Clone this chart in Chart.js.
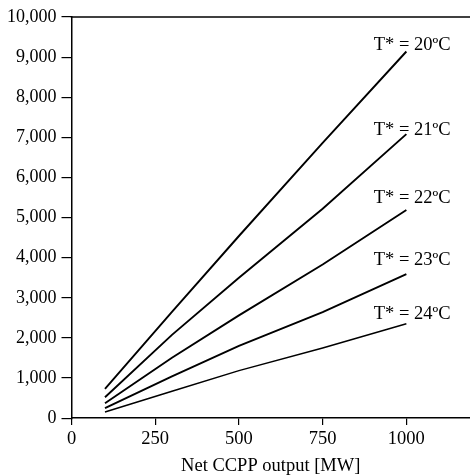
<!DOCTYPE html>
<html>
<head>
<meta charset="utf-8">
<script src="https://cdn.jsdelivr.net/npm/chart.js@4"></script>
<style>
  html, body { margin: 0; padding: 0; background: #fff; overflow: hidden; }
  #wrap { width: 470px; height: 476px; }
</style>
</head>
<body>
<div id="wrap"><canvas id="c" width="470" height="476"></canvas></div>
<script>
const xValues = [100, 300, 500, 750, 1000];
const t20 = [730, 2650, 4540, 6860, 9140];
const t21 = [520, 2075, 3500, 5220, 7080];
const t22 = [370, 1505, 2560, 3830, 5190];
const t23 = [250, 1040, 1800, 2640, 3590];
const t24 = [150, 668, 1184, 1750, 2350];
const seriesLabels = ['T* = 20ºC', 'T* = 21ºC', 'T* = 22ºC', 'T* = 23ºC', 'T* = 24ºC'];
const labelY = [9167, 7065, 5362, 3823, 2476];
const labelX = 1132;
const xTicks = [0, 250, 500, 750, 1000];
const yTicks = [0, 1000, 2000, 3000, 4000, 5000, 6000, 7000, 8000, 9000, 10000];
const xTitle = 'Net CCPP output [MW]';

const FONT = "'Liberation Serif', 'Times New Roman', serif";
const seriesData = [t20, t21, t22, t23, t24];
const widths = [1.9, 1.9, 1.9, 1.9, 1.5];

const datasets = seriesData.map((arr, i) => ({
  label: seriesLabels[i],
  data: arr.map((v, j) => ({ x: xValues[j], y: v })),
  borderColor: '#000',
  borderWidth: widths[i],
  pointRadius: 0,
  tension: 0,
  fill: false
}));

const framePlugin = {
  id: 'frame',
  afterDraw(chart) {
    const ctx = chart.ctx;
    const a = chart.chartArea;
    ctx.save();
    ctx.strokeStyle = '#000';
    ctx.lineWidth = 1.5;
    ctx.beginPath();
    ctx.moveTo(a.left - 0.75, a.top);
    ctx.lineTo(chart.width, a.top);
    ctx.stroke();
    const xs = chart.scales.x, ys = chart.scales.y;
    ctx.fillStyle = '#000';
    ctx.font = "18.5px " + FONT;
    ctx.textAlign = 'right';
    ctx.textBaseline = 'alphabetic';
    seriesLabels.forEach((t, i) => {
      ctx.fillText(t, xs.getPixelForValue(labelX), ys.getPixelForValue(labelY[i]));
    });
    ctx.restore();
  }
};

new Chart(document.getElementById('c'), {
  type: 'line',
  data: { datasets },
  options: {
    responsive: false,
    animation: false,
    layout: { padding: { left: 2, right: 0, top: 17, bottom: -1.5 } },
    plugins: { legend: { display: false }, tooltip: { enabled: false } },
    scales: {
      x: {
        type: 'linear',
        min: 0,
        max: 1190,
        afterBuildTicks(scale) { scale.ticks = xTicks.map(v => ({ value: v })); },
        ticks: {
          color: '#000',
          font: { family: FONT, size: 18.5 },
          padding: 3,
          maxRotation: 0,
          callback: v => String(v)
        },
        grid: { display: true, drawOnChartArea: false, drawTicks: true, tickLength: 7, color: '#000', lineWidth: 1.2 },
        border: { display: true, color: '#000', width: 1.5 },
        title: { display: true, text: xTitle, color: '#000', font: { family: FONT, size: 18.5 }, padding: { top: 2, bottom: 0 } }
      },
      y: {
        type: 'linear',
        min: 0,
        max: 10000,
        afterBuildTicks(scale) { scale.ticks = yTicks.map(v => ({ value: v })); },
        ticks: {
          color: '#000',
          font: { family: FONT, size: 18 },
          padding: 5,
          callback: v => v.toLocaleString('en-US')
        },
        grid: { display: true, drawOnChartArea: false, drawTicks: true, tickLength: 10, color: '#000', lineWidth: 1.2 },
        border: { display: true, color: '#000', width: 1.5 }
      }
    }
  },
  plugins: [framePlugin]
});
</script>
</body>
</html>
